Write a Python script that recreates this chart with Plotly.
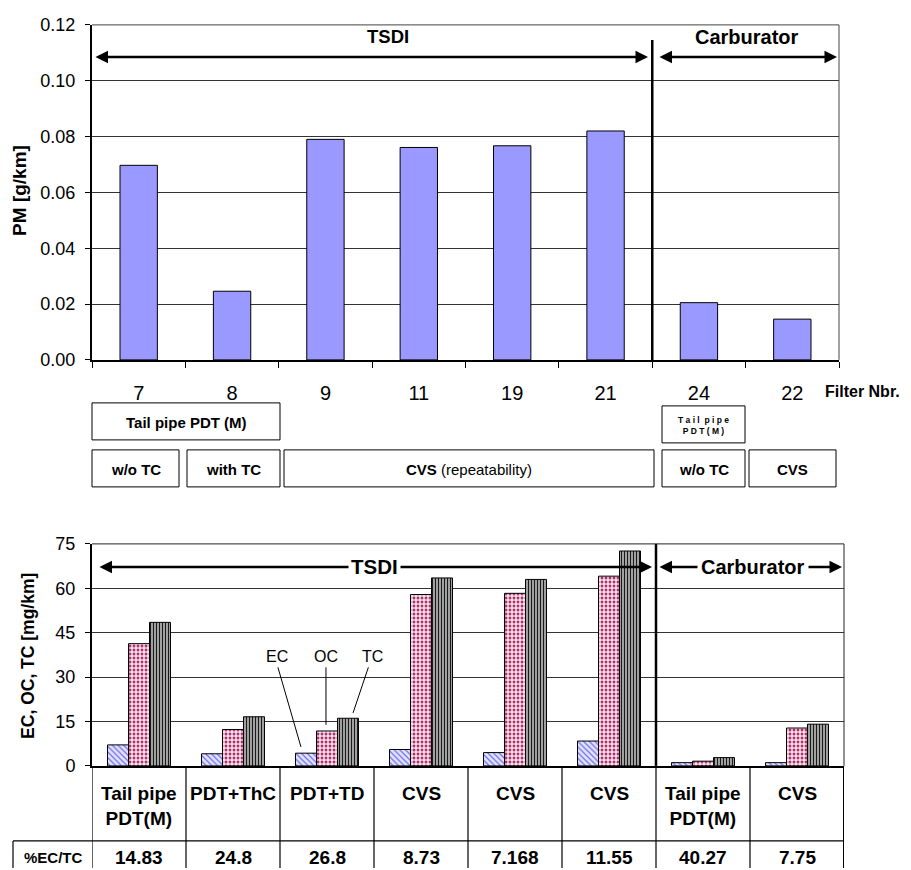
import plotly.graph_objects as go

# Observed page placement: the figure is drawn 8px in from the left, and its
# vertical pixels land at about 17 + 0.977*y.  Reference pixel positions are
# converted through this mapping so the picture lines up with the reference.
XOFF = 8
YA, YS = 17.1, 0.977
W, H = 911 - XOFF, 870
FONT = "Arial, Liberation Sans, sans-serif"

# ---------------- data ----------------
filter_nbr = ["7", "8", "9", "11", "19", "21", "24", "22"]
pm_g_km = [0.0697, 0.0246, 0.0790, 0.0761, 0.0767, 0.0820, 0.0205, 0.0146]

groups = [0, 1, 2, 3, 4, 5, 6, 7]
ec = [7.1, 4.1, 4.3, 5.55, 4.5, 8.4, 1.1, 1.1]
oc = [41.3, 12.3, 11.8, 57.9, 58.3, 64.1, 1.6, 12.8]
tc = [48.5, 16.6, 16.1, 63.5, 63.0, 72.6, 2.8, 14.1]

sample_labels = ["Tail pipe<br>PDT(M)", "PDT+ThC", "PDT+TD", "CVS", "CVS", "CVS",
                 "Tail pipe<br>PDT(M)", "CVS"]
pct_ec_tc = ["14.83", "24.8", "26.8", "8.73", "7.168", "11.55", "40.27", "7.75"]

top_boxes = [  # (text, x0, x1, y0, y1, fontsize) in reference pixel space
    ("<b>Tail pipe PDT (M)</b>", 92, 280, 402, 439, 15),
    ("<b>w/o TC</b>", 92, 179, 449, 486, 15),
    ("<b>with TC</b>", 187, 280, 449, 486, 15),
    ("<b>CVS</b> (repeatability)", 284, 654, 449, 486, 15),
    ("<b>T a i l  p i p e<br>P D T ( M )</b>", 662, 745, 405, 442, 8.5),
    ("<b>w/o TC</b>", 662, 745, 449, 486, 15),
    ("<b>CVS</b>", 749, 836, 449, 486, 15),
]


def px(x):
    return (x - XOFF) / W


def py(y):
    return 1 - ((y - YA) / YS) / H


TOP1 = 24  # top of upper plot (kept a little lower so the 0.12 label is not clipped)


def txt(x, y, text, size, bold=True, **kw):
    d = dict(xref="paper", yref="paper", x=px(x), y=py(y),
             text=("<b>" + text + "</b>") if bold else text,
             showarrow=False, xanchor="center", yanchor="middle",
             font=dict(size=size, family=FONT, color="black"))
    d.update(kw)
    return d


fig = go.Figure()

# top chart bars
fig.add_trace(go.Bar(
    x=filter_nbr, y=pm_g_km, width=0.4, xaxis="x", yaxis="y",
    marker=dict(color="#9999ff", line=dict(color="black", width=1)),
    showlegend=False, hoverinfo="x+y"))

# bottom chart bars
fig.add_trace(go.Bar(
    x=groups, y=ec, name="EC", xaxis="x2", yaxis="y2",
    marker=dict(color="#d8d8ff", line=dict(color="black", width=1),
                pattern=dict(shape="\\", fgcolor="#6a6ae8", bgcolor="#e4e4ff",
                             size=4, solidity=0.3, fillmode="replace")),
    showlegend=False))
fig.add_trace(go.Bar(
    x=groups, y=oc, name="OC", xaxis="x2", yaxis="y2",
    marker=dict(color="#ffe6f0", line=dict(color="black", width=1),
                pattern=dict(shape=".", fgcolor="#a8306a", bgcolor="#ffe8f2",
                             size=4, solidity=0.45, fillmode="replace")),
    showlegend=False))
fig.add_trace(go.Bar(
    x=groups, y=tc, name="TC", xaxis="x2", yaxis="y2",
    marker=dict(color="#aaaaaa", line=dict(color="black", width=1),
                pattern=dict(shape="|", fgcolor="#1a1a1a", bgcolor="#b0b0b0",
                             size=3, solidity=0.4, fillmode="replace")),
    showlegend=False))

shapes = []
annotations = []

# ---- top chart borders & divider ----
shapes.append(dict(type="line", xref="paper", yref="paper", x0=px(92), x1=px(839),
                   y0=py(TOP1), y1=py(TOP1), line=dict(color="#444", width=1)))
shapes.append(dict(type="line", xref="paper", yref="paper", x0=px(839), x1=px(839),
                   y0=py(TOP1), y1=py(359), line=dict(color="#444", width=1)))
shapes.append(dict(type="line", xref="x", yref="paper", x0=5.5, x1=5.5,
                   y0=py(39), y1=py(359), line=dict(color="black", width=2.5)))


def dbl_arrow(x0, x1, y, width=2.5, size=1.0):
    return dict(xref="paper", yref="paper", axref="pixel", ayref="pixel",
                x=px(x1), y=py(y), ax=x0 - x1, ay=0, text="",
                showarrow=True, arrowhead=2, startarrowhead=2, arrowside="end+start",
                arrowsize=size, startarrowsize=size, arrowwidth=width, arrowcolor="black",
                standoff=0, startstandoff=0)


annotations.append(dbl_arrow(94, 648, 56))
annotations.append(dbl_arrow(658, 837, 56))
annotations.append(txt(388, 36, "TSDI", 18.5))
annotations.append(txt(747, 36, "Carburator", 20))
annotations.append(txt(862, 391, "Filter Nbr.", 16))
annotations.append(txt(20, 190, "PM [g/km]", 19, textangle=-90))

# top boxes
for t, x0, x1, y0, y1, fs in top_boxes:
    shapes.append(dict(type="rect", xref="paper", yref="paper", x0=px(x0), x1=px(x1),
                       y0=py(y1), y1=py(y0), line=dict(color="black", width=1)))
    annotations.append(txt((x0 + x1) / 2, (y0 + y1) / 2 + 1, t, fs, bold=False))

# ---- bottom chart ----
shapes.append(dict(type="line", xref="paper", yref="paper", x0=px(92), x1=px(844),
                   y0=py(543), y1=py(543), line=dict(color="#222", width=1)))
shapes.append(dict(type="line", xref="paper", yref="paper", x0=px(844), x1=px(844),
                   y0=py(543), y1=py(765), line=dict(color="#222", width=1)))
shapes.append(dict(type="line", xref="x2", yref="paper", x0=5.5, x1=5.5,
                   y0=py(543), y1=py(765), line=dict(color="black", width=2.5)))

annotations.append(dbl_arrow(98, 652, 566, width=2.5))
annotations.append(dbl_arrow(658, 842, 566, width=2.5))
annotations.append(txt(374, 566, "TSDI", 20.5, bgcolor="white", borderpad=2))
annotations.append(txt(753, 566, "Carburator", 20, bgcolor="white", borderpad=3))
annotations.append(txt(28, 655, "EC, OC, TC [mg/km]", 17.5, textangle=-90))

# EC / OC / TC leader labels
leaders = [("EC", 1.468, 1.478, 1.723, 6.4), ("OC", 1.989, 1.989, 1.989, 13.9),
           ("TC", 2.489, 2.44, 2.277, 17.9)]
for name, tx, lx, bx, by in leaders:
    annotations.append(dict(xref="x2", yref="y2", x=tx, y=36.8, text=name, showarrow=False,
                            xanchor="center", yanchor="middle",
                            font=dict(size=16, family=FONT, color="black")))
    shapes.append(dict(type="line", xref="x2", yref="y2", x0=lx, y0=33.3, x1=bx, y1=by,
                       line=dict(color="black", width=1)))

# bottom table
for i in range(9):
    shapes.append(dict(type="line", xref="x2", yref="paper", x0=i - 0.5, x1=i - 0.5,
                       y0=0, y1=py(765),
                       line=dict(color="black", width=2 if i == 8 else 1.2)))
shapes.append(dict(type="line", xref="paper", yref="paper", x0=px(13), x1=px(844),
                   y0=py(840), y1=py(840), line=dict(color="black", width=1.2)))
shapes.append(dict(type="line", xref="paper", yref="paper", x0=px(13), x1=px(13),
                   y0=0, y1=py(840), line=dict(color="black", width=1.2)))
annotations.append(txt(53, 857, "%EC/TC", 15))
for g, lab, pct in zip(groups, sample_labels, pct_ec_tc):
    annotations.append(dict(xref="x2", yref="paper", x=g, y=py(780), yanchor="top",
                            xanchor="center",
                            text="<b>" + lab + "</b>", showarrow=False,
                            font=dict(size=19, family=FONT, color="black")))
    annotations.append(dict(xref="x2", yref="paper", x=g, y=py(857), yanchor="middle",
                            xanchor="center",
                            text="<b>" + pct + "</b>", showarrow=False,
                            font=dict(size=19, family=FONT, color="black")))

fig.update_layout(
    width=W, height=H, autosize=False,
    margin=dict(l=0, r=0, t=0, b=0),
    paper_bgcolor="white", plot_bgcolor="white",
    font=dict(family=FONT, color="black"),
    barmode="group", bargap=0.33, bargroupgap=0,
    showlegend=False,
    xaxis=dict(domain=[px(92), px(839)], anchor="y", type="category",
               categoryorder="array", categoryarray=filter_nbr,
               range=[-0.5, 7.5],
               showline=True, linecolor="black", linewidth=1.5,
               ticks="outside", tickson="boundaries", ticklen=6, tickcolor="black",
               tickfont=dict(size=20, family=FONT, color="black"),
               ticklabelstandoff=14, showgrid=False),
    yaxis=dict(domain=[py(359), py(TOP1)], anchor="x", range=[0, 0.12], dtick=0.02,
               tickformat=".2f", showline=True, linecolor="black", linewidth=2,
               ticks="outside", ticklen=5, tickcolor="black",
               tickfont=dict(size=18, family=FONT, color="black"),
               ticklabelstandoff=6,
               showgrid=True, gridcolor="#333", gridwidth=1, zeroline=False),
    xaxis2=dict(domain=[px(92), px(844)], anchor="y2", range=[-0.5, 7.5],
                showline=True, linecolor="black", linewidth=1.5,
                showticklabels=False, ticks="", showgrid=False, zeroline=False),
    yaxis2=dict(domain=[py(765), py(543)], anchor="x2", range=[0, 75], dtick=15,
                showline=True, linecolor="black", linewidth=2,
                ticks="outside", ticklen=5, tickcolor="black",
                tickfont=dict(size=18, family=FONT, color="black"),
                ticklabelstandoff=6,
                showgrid=True, gridcolor="#333", gridwidth=1, zeroline=False),
    shapes=shapes, annotations=annotations,
)

fig.write_html("out.html")
